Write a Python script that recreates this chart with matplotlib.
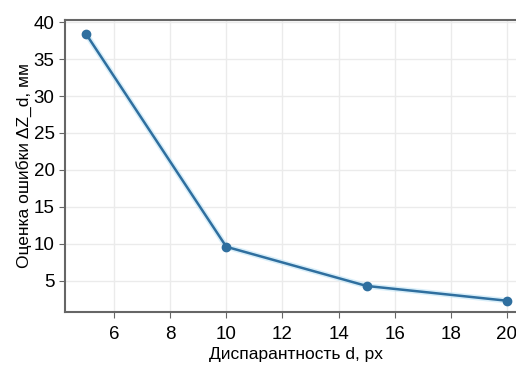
import matplotlib.pyplot as plt

disparity = [5, 10, 15, 20]
error_mm = [38.4, 9.6, 4.3, 2.3]
x_ticks = [6, 8, 10, 12, 14, 16, 18, 20]
y_ticks = [5, 10, 15, 20, 25, 30, 35, 40]

plt.rcParams['font.family'] = ['Liberation Sans', 'DejaVu Sans']

fig = plt.figure(figsize=(5.16, 3.69), dpi=100)
ax = fig.add_axes([0.126, 0.155, 0.897, 0.791])

# faint halo under the line, like the original
ax.plot(disparity, error_mm, color='#bfe3f5', linewidth=4, alpha=0.6, zorder=2)
ax.plot(disparity, error_mm, color='#2f6f9f', linewidth=1.8, marker='o',
        markersize=6, zorder=3)

ax.set_xlim(4.25, 20.75)
ax.set_ylim(0.8, 40.3)
ax.set_xticks(x_ticks)
ax.set_yticks(y_ticks)
ax.grid(True, color='#ebebeb', linewidth=1)
ax.set_axisbelow(True)

for side in ['left', 'bottom', 'top']:
    ax.spines[side].set_color('#666666')
    ax.spines[side].set_linewidth(1.5)
ax.spines['right'].set_visible(False)
ax.tick_params(colors='#666666', labelcolor='black', labelsize=13.5, length=4)
ax.tick_params(axis='x', pad=6)

ax.set_xlabel('Диспарантность d, px', fontsize=12.5, labelpad=3)
ax.set_ylabel('Оценка ошибки ΔZ_d, мм', fontsize=12.5, labelpad=1)

fig.savefig('out.png', dpi=100)
